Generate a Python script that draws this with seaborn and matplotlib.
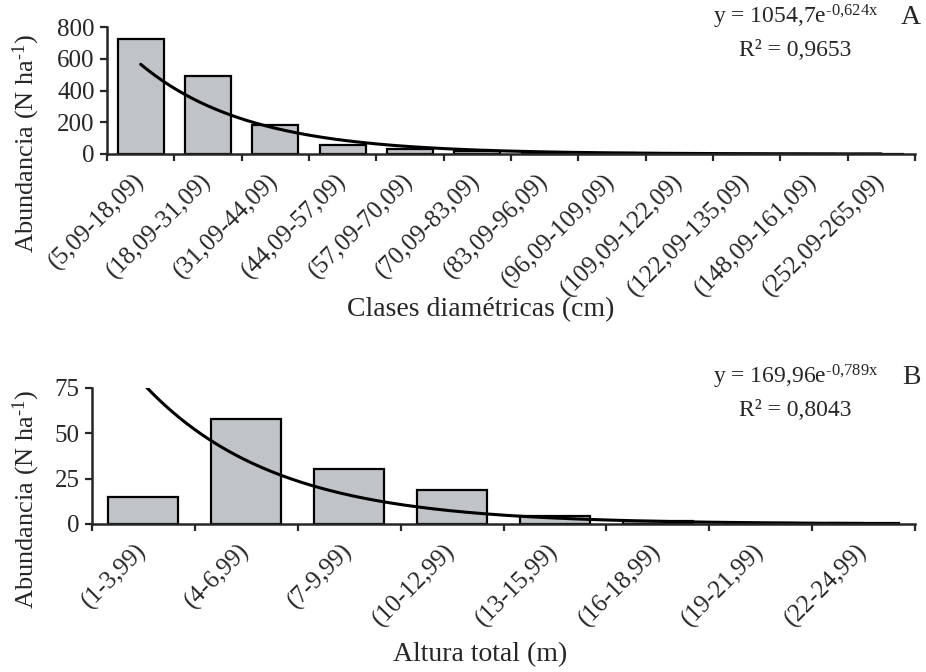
import numpy as np
import pandas as pd
import matplotlib
matplotlib.use("Agg")
import matplotlib.pyplot as plt
import seaborn as sns

# datos
clases_diam = ["(5,09-18,09)", "(18,09-31,09)", "(31,09-44,09)", "(44,09-57,09)",
               "(57,09-70,09)", "(70,09-83,09)", "(83,09-96,09)", "(96,09-109,09)",
               "(109,09-122,09)", "(122,09-135,09)", "(148,09-161,09)", "(252,09-265,09)"]
abund_diam = [724, 491, 183, 55, 33, 18, 8, 5, 3, 2, 3, 2]

clases_alt = ["(1-3,99)", "(4-6,99)", "(7-9,99)", "(10-12,99)",
              "(13-15,99)", "(16-18,99)", "(19-21,99)", "(22-24,99)"]
abund_alt = [15, 58, 30.5, 19, 4.5, 1.5, 0.6, 0.3]

# linea de tendencia exponencial (Excel)
coef_a = [1054.7, 169.96]
coef_b = [-0.624, -0.789]
ecuaciones = [r"y = 1054,7e$^{\text{-0,624x}}$", r"y = 169,96e$^{\text{-0,789x}}$"]
r2_txt = ["R² = 0,9653", "R² = 0,8043"]
letras = ["A", "B"]

sns.set_style("ticks")
plt.rcParams['font.family'] = ['Liberation Serif', 'DejaVu Serif']
plt.rcParams['mathtext.fontset'] = 'custom'
plt.rcParams['mathtext.rm'] = 'Liberation Serif'
plt.rcParams['mathtext.it'] = 'Liberation Serif:italic'
FS_TICK = 18
FS_LAB = 19
bar_color = "#c0c3c7"

fig = plt.figure(figsize=(9.26, 6.72), dpi=100)
ax1 = fig.add_axes([107 / 926, 1 - 154 / 672, 808 / 926, 127 / 672])
ax2 = fig.add_axes([92 / 926, 1 - 524 / 672, 823 / 926, 136 / 672])

paneles = [
    (ax1, clases_diam, abund_diam, 800, [0, 200, 400, 600, 800], "Clases diamétricas (cm)",
     (-0.080, 0.08), (0.463, -1.13)),
    (ax2, clases_alt, abund_alt, 75, [0, 25, 50, 75], "Altura total (m)",
     (-0.061, 0.18), (0.471, -0.87)),
]

for i, (ax, cats, vals, ymax, yt, xlab, ylc, xlc) in enumerate(paneles):
    n = len(cats)
    df = pd.DataFrame({"clase": cats, "abund": vals})
    sns.barplot(data=df, x="clase", y="abund", color=bar_color, saturation=1,
                edgecolor="black", linewidth=1.6, width=0.68, ax=ax)

    xs = np.linspace(1, n, 300)
    fit = pd.DataFrame({"x": xs - 1, "y": coef_a[i] * np.exp(coef_b[i] * xs)})
    sns.lineplot(data=fit, x="x", y="y", color="black", linewidth=2.2, ax=ax)

    ax.set_xlim(-0.5, n - 0.5)
    ax.set_ylim(0, ymax)
    ax.set_yticks(yt)
    ax.set_xticks(range(n))
    ax.set_xticklabels(cats, rotation=45, ha="right", va="center",
                       rotation_mode="anchor", fontsize=FS_TICK)
    ax.set_xticks(np.arange(-0.5, n), minor=True)
    ax.tick_params(axis="x", which="major", length=0, pad=17)
    ax.tick_params(axis="x", which="minor", length=5, width=1.6, direction="out")
    ax.tick_params(axis="y", length=5, width=1.6, labelsize=FS_TICK, pad=4)
    for s in ["left", "bottom"]:
        ax.spines[s].set_linewidth(1.8)
    sns.despine(ax=ax)

    ax.set_ylabel(r"Abundancia (N ha$^{\text{-1}}$)", fontsize=FS_LAB)
    ax.yaxis.set_label_coords(*ylc)
    ax.set_xlabel(xlab, fontsize=20)
    ax.xaxis.set_label_coords(*xlc)

ys_eq = [1 - 17 / 672, 1 - 377 / 672]
ys_r2 = [1 - 50 / 672, 1 - 410 / 672]
for i in range(2):
    fig.text(796 / 926, ys_eq[i], ecuaciones[i], ha="center", va="center", fontsize=17)
    fig.text(795 / 926, ys_r2[i], r2_txt[i], ha="center", va="center", fontsize=17)
    fig.text(911 / 926, ys_eq[i], letras[i], ha="center", va="center", fontsize=20)

fig.savefig("out.png", dpi=100)
